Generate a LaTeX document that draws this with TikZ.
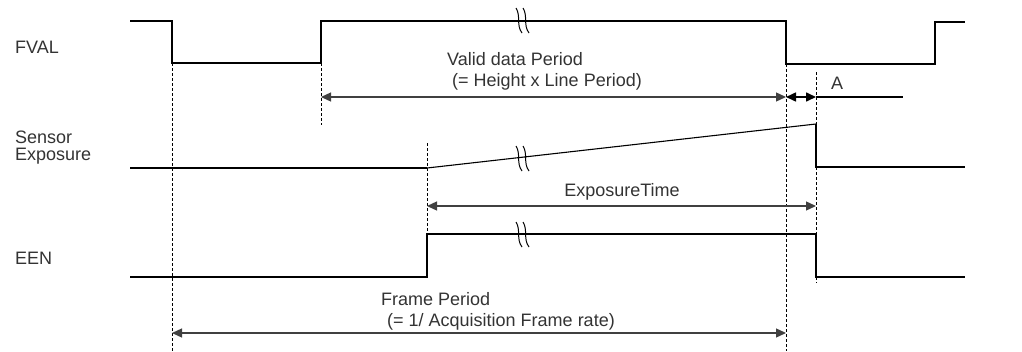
\documentclass[tikz,border=0pt]{standalone}
\usepackage{fontspec}
\setmainfont{Liberation Sans}
\usetikzlibrary{arrows.meta}

\begin{document}
\begin{tikzpicture}[
    x=1pt, y=-1pt,
    signal/.style={line width=2pt, line join=miter},
    ramp/.style={line width=1.1pt},
    guide/.style={line width=0.9pt, dash pattern=on 3pt off 2pt},
    dimarrow/.style={{Triangle[length=10pt,width=9pt]}-{Triangle[length=10pt,width=9pt]}, line width=1.3pt, black!75},
    txt/.style={font=\fontsize{18}{21}\selectfont, text=black!80, inner sep=0pt},
    brk/.style={line width=1pt},
]
\useasboundingbox (0,0) rectangle (1022,351);

% Signal names
\node[txt, anchor=base west] (fval) at (15,53) {FVAL};
\node[txt, anchor=base west, align=left, font=\fontsize{18}{17}\selectfont] (sensor) at (15,160) {Sensor\\Exposure};
\node[txt, anchor=base west] (een) at (15,264) {EEN};

% Edges
\coordinate (ffall) at (172,63);
\coordinate (frise) at (321,63);
\coordinate (fend) at (786,64);
\coordinate (estart) at (427,168);
\coordinate (eend) at (816,124);
\coordinate (nrise) at (427,234);
\coordinate (nfall) at (816,234);

% Waveforms
\draw[signal] (130,21) -| (ffall) -| (321,21) -| (fend) -| (935,22) -- (965,22);
\draw[signal] (130,168) -- (estart);
\draw[ramp] (estart) -- (eend);
\draw[signal] (eend) |- (965,167);
\draw[signal] (130,277) -| (nrise) -| (nfall) |- (965,277);

% Break marks
\foreach \dx in {0,7} {
  \draw[brk] (516+\dx,8) .. controls (521+\dx,16) and (516+\dx,25) .. (522+\dx,33);
  \draw[brk] (516+\dx,146) .. controls (521+\dx,154) and (516+\dx,163) .. (522+\dx,171);
  \draw[brk] (516+\dx,222) .. controls (521+\dx,230) and (516+\dx,239) .. (522+\dx,247);
}

% Guide lines
\draw[guide] (ffall) -- (172,351);
\draw[guide] (frise) -- (321,125);
\draw[guide] (fend) -- (786,351);
\draw[guide] (816,72) -- (816,283);
\draw[guide] (427,143) -- (nrise);

% Periods
\coordinate (vl) at (321,97);
\coordinate (vr) at (786,97);
\coordinate (ar) at (816,97);
\coordinate (aend) at (903,97);
\draw[dimarrow] (vl) -- (vr);
\draw[dimarrow, black, line width=1.6pt] (vr) -- (ar);
\draw[black, line width=1.6pt] (ar) -- (aend);
\node[txt, anchor=base west, align=left] (valid) at (447,86) {Valid data Period\\\hspace{5pt}(= Height x Line Period)};
\node[txt, anchor=base] (alabel) at (837,89) {A};

\coordinate (el) at (427,206);
\coordinate (er) at (816,206);
\draw[dimarrow] (el) -- (er);
\node[txt, anchor=base] (exptime) at (622,196) {ExposureTime};

\coordinate (pl) at (172,333);
\coordinate (pr) at (786,333);
\draw[dimarrow] (pl) -- (pr);
\node[txt, anchor=base west, align=left] (frame) at (381,326) {Frame Period\\\hspace{6pt}(= 1/ Acquisition Frame rate)};

\end{tikzpicture}
\end{document}
